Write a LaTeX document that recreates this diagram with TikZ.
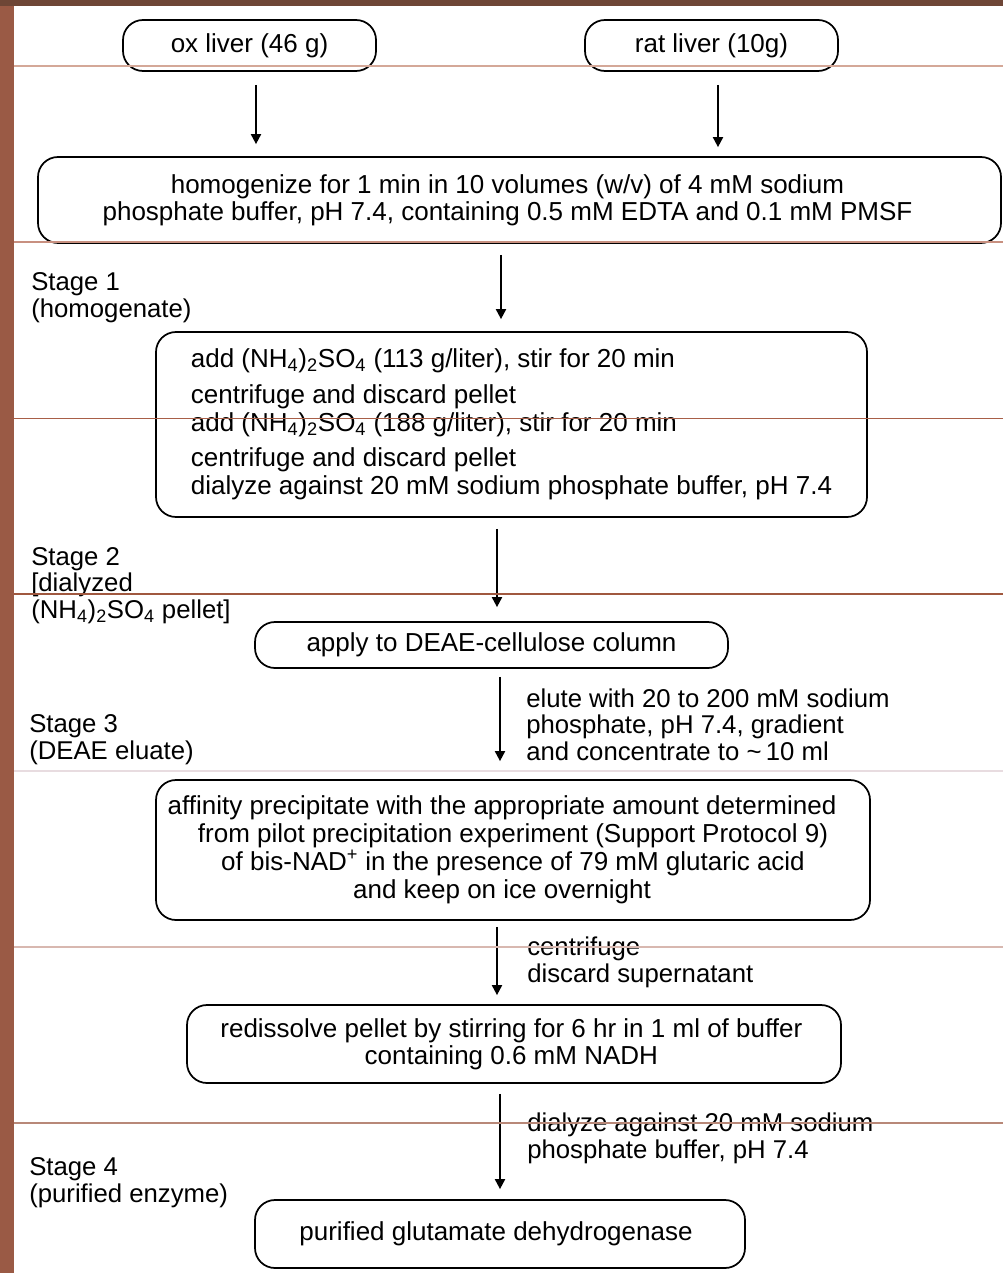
\documentclass[tikz,border=0pt]{standalone}
\usepackage{fontspec}
\setmainfont{Liberation Sans}
\usetikzlibrary{arrows.meta,calc}
\definecolor{bgbrown}{HTML}{9A5A45}
\definecolor{topbrown}{HTML}{6E4636}
\definecolor{lnA}{HTML}{D4A898}
\definecolor{lnB}{HTML}{C89080}
\definecolor{lnC}{HTML}{A85F48}
\definecolor{lnD}{HTML}{A0583F}
\definecolor{lnE}{HTML}{E8DCE0}
\definecolor{lnF}{HTML}{D8B8B0}
\definecolor{lnG}{HTML}{B88878}
\newcommand\fsz{\fontsize{19.5}{20.25}\selectfont}
\newcommand\fsl{\fontsize{19.3}{20}\selectfont}
\newcommand\sh[1]{\hspace*{#1}}
\begin{document}
\begin{tikzpicture}[x=0.75pt,y=-0.75pt,
  box/.style={draw,line width=1.3pt,rounded corners=15pt,inner sep=0pt,align=center,font=\fsz},
  lbl/.style={anchor=west,align=left,inner sep=0pt,font=\fsl},
  arr/.style={line width=1.4pt,-{Triangle[length=7.5pt,width=7.5pt]}}]
\useasboundingbox (0,0) rectangle (1003,1273);
\fill[bgbrown] (0,0) rectangle (1003,1273);
\fill[topbrown] (0,0) rectangle (1003,6);
\fill[white] (14,6) rectangle (1003,1273);

% boxes
\node[box,minimum width=189.75pt,minimum height=38.25pt] (ox) at (249.5,45.5) {ox liver (46 g)};
\node[box,minimum width=189.75pt,minimum height=38.25pt] (rat) at (711.5,45.5) {rat liver (10g)};
\node[box,minimum width=722.25pt,minimum height=64.5pt] (hom) at (519.5,200)
  {homogenize for 1 min in 10 volumes (w/v) of 4 mM sodium\sh{18pt}\\phosphate buffer, pH 7.4, containing 0.5 mM EDTA and 0.1 mM PMSF\sh{18pt}};
\node[box,minimum width=533.25pt,minimum height=138.75pt,align=left,font=\fontsize{19.5}{21}\selectfont] (amm) at (511.5,424.5)
  {add (NH\textsubscript{4})\textsubscript{2}SO\textsubscript{4} (113 g/liter), stir for 20 min\\[6pt]
   centrifuge and discard pellet\\
   add (NH\textsubscript{4})\textsubscript{2}SO\textsubscript{4} (188 g/liter), stir for 20 min\\[5.25pt]
   centrifuge and discard pellet\\
   dialyze against 20 mM sodium phosphate buffer, pH 7.4};
\node[box,minimum width=354.75pt,minimum height=34.5pt] (deae) at (491.5,645) {apply to DEAE-cellulose column};
\node[box,minimum width=535.5pt,minimum height=105pt,font=\fontsize{19.5}{21}\selectfont] (aff) at (513,850)
  {affinity precipitate with the appropriate amount determined\sh{16.5pt}\\from pilot precipitation experiment (Support Protocol 9)\sh{16.5pt}\\of bis-NAD\textsuperscript{+} in the presence of 79 mM glutaric acid\sh{16.5pt}\\and keep on ice overnight\sh{16.5pt}};
\node[box,minimum width=490.5pt,minimum height=58.5pt] (red) at (514,1044)
  {redissolve pellet by stirring for 6 hr in 1 ml of buffer\sh{4pt}\\containing 0.6 mM NADH\sh{4pt}};
\node[box,minimum width=367.5pt,minimum height=51pt] (pur) at (500,1234) {purified glutamate dehydrogenase\sh{6pt}};

% stage labels
\node[lbl] (s1) at (31,297.5) {Stage 1\\(homogenate)};
\node[lbl] (s2) at (31,585.5) {Stage 2\\{[}dialyzed\\(NH\textsubscript{4})\textsubscript{2}SO\textsubscript{4} pellet{]}};
\node[lbl] (s3) at (29,739.5) {Stage 3\\(DEAE eluate)};
\node[lbl] (s4) at (29,1182.5) {Stage 4\\(purified enzyme)};
\node[lbl] (e1) at (526,724.5) {elute with 20 to 200 mM sodium\\phosphate, pH 7.4, gradient\\and concentrate to \textasciitilde\,10 ml};
\node[lbl] (e2) at (527,962.5) {centrifuge\\discard supernatant};
\node[lbl] (e3) at (527,1138.5) {dialyze against 20 mM sodium\\phosphate buffer, pH 7.4};

% arrows
\coordinate (a1) at ($(ox.south)+(6.5,13)$);
\coordinate (a2) at ($(rat.south)+(6.5,13)$);
\coordinate (a3) at ($(hom.south)+(-18.5,11)$);
\coordinate (a4) at ($(amm.south)+(-14.5,11)$);
\coordinate (a5) at ($(deae.south)+(8.5,8)$);
\coordinate (a6) at ($(aff.south)+(-16,6)$);
\coordinate (a7) at ($(red.south)+(-14,10)$);
\draw[arr,shorten >=9pt] (a1) -- (a1 |- hom.north);
\draw[arr,shorten >=6.75pt] (a2) -- (a2 |- hom.north);
\draw[arr,shorten >=9pt] (a3) -- (a3 |- amm.north);
\draw[arr,shorten >=10.5pt] (a4) -- (a4 |- deae.north);
\draw[arr,shorten >=13.5pt] (a5) -- (a5 |- aff.north);
\draw[arr,shorten >=6.75pt] (a6) -- (a6 |- red.north);
\draw[arr,shorten >=7.5pt] (a7) -- (a7 |- pur.north);

% background rules
\foreach \yy/\cc in {66/lnA,242/lnB,418.5/lnC,594/lnD,771/lnE,947/lnF,1123/lnG}
  \draw[\cc,line width=0.8pt] (14,\yy) -- (1003,\yy);
\end{tikzpicture}
\end{document}
